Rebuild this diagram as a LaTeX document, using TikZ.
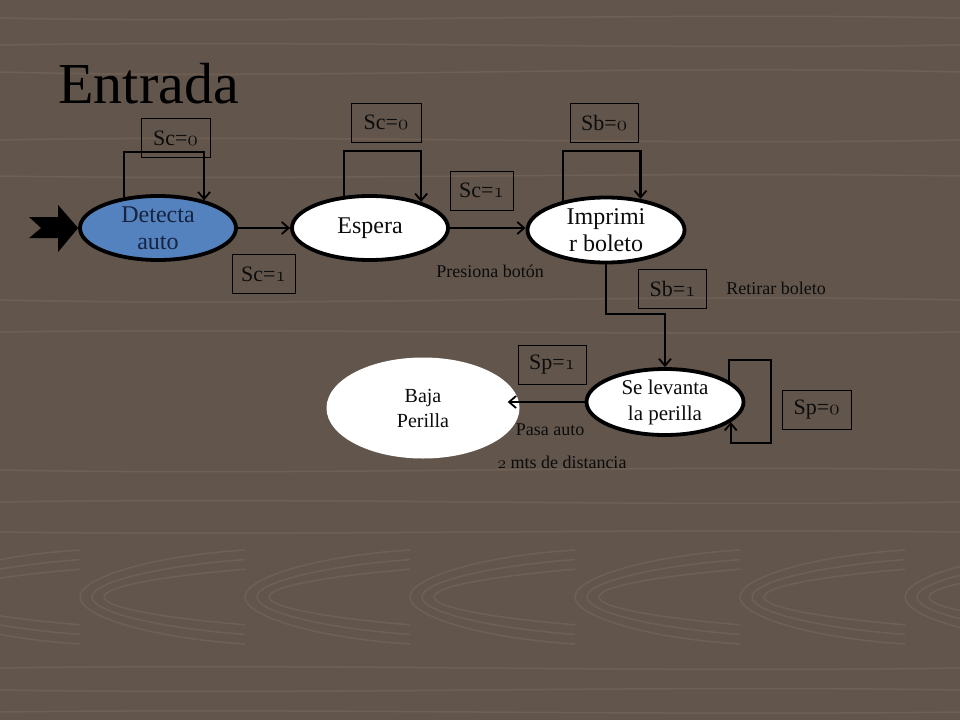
\documentclass[tikz,border=0pt]{standalone}
\usepackage{fontspec}
\setmainfont{Liberation Serif}
\usetikzlibrary{arrows.meta,shapes.geometric,calc}
\definecolor{wood}{RGB}{98,85,75}
\definecolor{grainc}{RGB}{150,130,108}
\definecolor{stateblue}{RGB}{84,130,190}
\definecolor{navytext}{RGB}{22,36,64}
\definecolor{ink}{RGB}{12,12,12}
\newcommand{\osn}[1]{{\usefont{OML}{cmm}{m}{it}#1}}
\begin{document}
\begin{tikzpicture}[x=1pt,y=-1pt,
  grain/.style={draw=grainc, line width=1.5pt, opacity=0.25},
  state/.style={ellipse, draw=black, line width=3.8pt, fill=white, inner sep=-14pt, align=center, font=\fontsize{24}{27}\selectfont, text=ink},
  cond/.style={draw=black, line width=0.8pt, minimum width=#1, minimum height=39pt, inner sep=0pt, font=\fontsize{22}{24}\selectfont, text=ink},
  note/.style={font=\fontsize{18}{20}\selectfont, text=ink, inner sep=0pt},
  arr/.style={draw=black, line width=2.2pt, -{Straight Barb[length=7pt,width=12pt,line width=1.8pt]}},
]
\fill[wood] (0,0) rectangle (960,720);
\useasboundingbox (0,0) rectangle (960,720);

% wood grain
\foreach \y/\a in {18/6, 45/-5, 72/8, 140/-6, 176/5, 300/7, 332/-4, 470/6, 502/-5, 532/4, 668/-5, 690/5, 712/-4}
  \draw[grain] (0,\y) .. controls (320,\y+\a) and (640,\y-\a) .. (960,\y);
\foreach \t in {-85,80,245,410,575,740,905}
  \foreach \d in {0,12,24}
    \draw[grain] (\t+165,550+\d*0.8) .. controls (\t+70+\d,556+\d*0.8) and (\t+\d,578+\d*0.3) .. (\t+\d,597)
      .. controls (\t+\d,616-\d*0.3) and (\t+70+\d,638-\d*0.8) .. (\t+165,644-\d*0.8);

% title
\node[anchor=base west, font=\fontsize{58}{64}\selectfont, text=black] (title) at (55,103) {Entrada};

% states
\node[state, fill=stateblue, text=navytext, minimum width=156pt, minimum height=64pt] (det) at (158,228) {Detecta\\auto};
\node[state, minimum width=156pt, minimum height=64pt] (esp) at (370,228) {Espera};
\node[state, minimum width=157pt, minimum height=65pt] (imp) at (606,230) {Imprimi\\r boleto};
\node[state, minimum width=157pt, minimum height=66pt, font=\fontsize{21}{26}\selectfont] (lev) at (665,402) {Se levanta\\la perilla};
\node[ellipse, fill=white, minimum width=193pt, minimum height=101pt, inner sep=0pt, align=center, font=\fontsize{20}{25}\selectfont, text=ink] (baja) at (423,408) {Baja\\Perilla};

% entry arrow
\fill[black] (det.west) -- ++(-20,-23) -- ++(0,12) -- ++(-29,0) -- ++(12,11) -- ++(-12,10) -- ++(29,0) -- ++(0,14) -- cycle;

% transitions
\draw[arr] (det.east) -- (esp.west);
\draw[arr] (esp.east) -- (esp.east -| imp.west);
\draw[arr] (det.138) -- (det.138 |- 0,152) -| (det.31);
\draw[arr] (esp.129) -- (esp.129 |- 0,151) -| (esp.27);
\draw[arr] (imp.146) -- (imp.146 |- 0,151) -| (imp.42);
\draw[arr] (imp.south) -- (imp.south |- 0,314) -| (lev.north);
\coordinate (bajatip) at ($(lev.west -| baja.east)+(-12,0)$);
\draw[arr] (lev.west) -- (bajatip);
\draw[arr] (lev.18) -- (lev.18 |- 0,360) -- (771,360) -- (771,443) -- (lev.-17 |- 0,443) -- (lev.-17);

% condition boxes
\node[cond=69pt] (c1) at (175.5,138) {Sc=\osn{0}};
\node[cond=63pt] (c2) at (263.5,274) {Sc=\osn{1}};
\node[cond=70pt] (c3) at (386,122.5) {Sc=\osn{0}};
\node[cond=63pt] (c4) at (481.5,190.5) {Sc=\osn{1}};
\node[cond=68pt] (c5) at (604,122.5) {Sb=\osn{0}};
\node[cond=68pt] (c6) at (672.5,288.5) {Sb=\osn{1}};
\node[cond=68pt] (c7) at (552,364.5) {Sp=\osn{1}};
\node[cond=69pt] (c8) at (816.5,409.5) {Sp=\osn{0}};

% notes
\node[note] (n1) at (490,271) {Presiona botón};
\node[note] (n2) at (776,288) {Retirar boleto};
\node[note] (n3) at (550,430) {Pasa auto};
\node[note] (n4) at (562,462) {\osn{2} mts de distancia};
\end{tikzpicture}
\end{document}
